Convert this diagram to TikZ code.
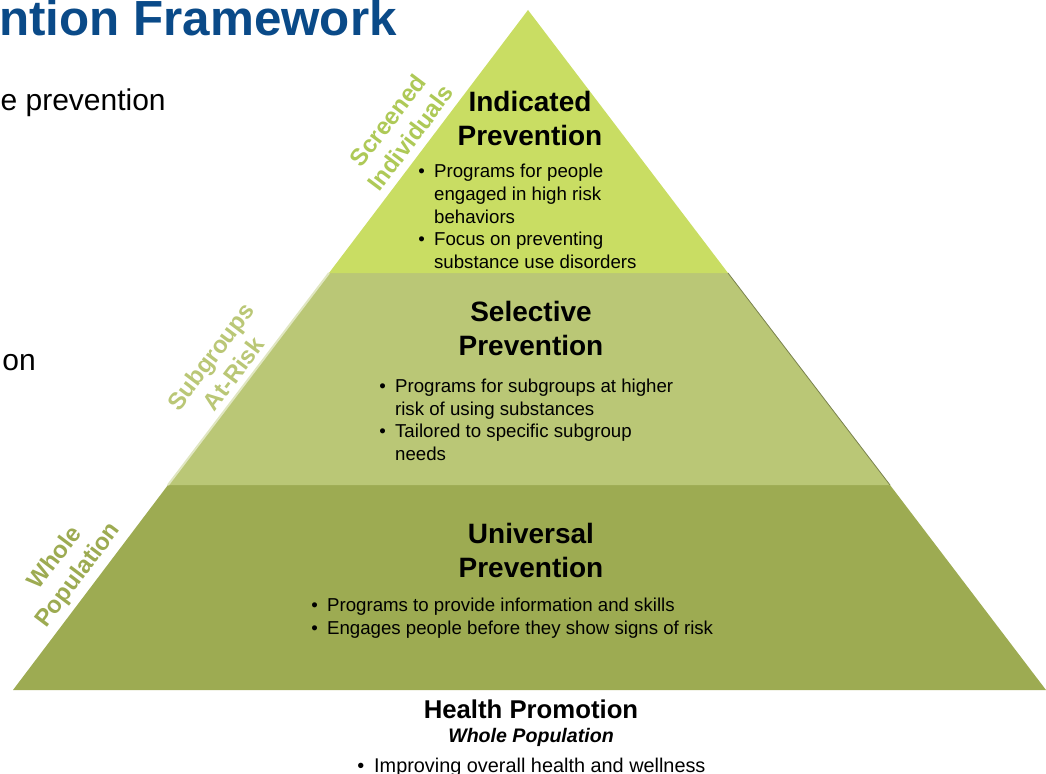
\documentclass[tikz,border=0pt]{standalone}
\usepackage{fontspec}
\setmainfont{Liberation Sans}
\definecolor{tiertop}{RGB}{201,221,99}
\definecolor{tiermid}{RGB}{186,199,118}
\definecolor{tierbot}{RGB}{157,171,82}
\definecolor{labtop}{RGB}{174,201,87}
\definecolor{titleblue}{RGB}{10,74,136}

\begin{document}
\begin{tikzpicture}[x=0.75pt, y=-0.75pt,
    head/.style={align=center, inner sep=0pt, font=\fontsize{21}{25.5}\selectfont\bfseries},
    list/.style={anchor=west, inner sep=0pt, font=\fontsize{14}{16.9}\selectfont},
    side/.style={rotate=53, align=center, inner sep=0pt, font=\fontsize{18}{21.4}\selectfont\bfseries}]
            \useasboundingbox (0,0) rectangle (1046,774);
            \clip (0,0) rectangle (1046,774);
            % slide text behind the pyramid
            \node [anchor=base east, inner sep=0pt, text=titleblue, font=\fontsize{37}{44}\selectfont\bfseries] (title) at (397,36) {ntion Framework};
            \node [anchor=base east, inner sep=0pt, font=\fontsize{22.5}{27}\selectfont] (slideA) at (166,110) {e prevention};
            \node [anchor=base east, inner sep=0pt, font=\fontsize{22.5}{27}\selectfont] (slideB) at (36,370) {on};
            % tiers
            \fill [tierbot] (168,485) -- (890,485) -- (1046,690) -- (13,690) -- cycle;
            \fill [tiermid] (329,273) -- (728,273) -- (890,485) -- (168,485) -- cycle;
            \fill [tiertop] (528,10) -- (728,273) -- (329,273) -- cycle;
            \draw [white!55!tiermid, line width=1.5] (329,273) -- (168,485);
            \draw [tiermid!65!black, line width=0.6] (728,273) -- (890,485);
            % tier texts
            \node [head] (indhead) at (530,118) {Indicated\\Prevention};
            \node [list] (indlist) at (418,218.5) {\begin{tabular}{@{}l@{\hspace{7pt}}l@{}}
                \textbullet & Programs for people\\ & engaged in high risk\\ & behaviors\\
                \textbullet & Focus on preventing\\ & substance use disorders\end{tabular}};
            \node [head] (selhead) at (531,328) {Selective\\Prevention};
            \node [list] (sellist) at (379,422) {\begin{tabular}{@{}l@{\hspace{7pt}}l@{}}
                \textbullet & Programs for subgroups at higher\\ & risk of using substances\\
                \textbullet & Tailored to specific subgroup\\ & needs\end{tabular}};
            \node [head] (unihead) at (531,550) {Universal\\Prevention};
            \node [list] (unilist) at (311,618.5) {\begin{tabular}{@{}l@{\hspace{7pt}}l@{}}
                \textbullet & Programs to provide information and skills\\
                \textbullet & Engages people before they show signs of risk\end{tabular}};
            % side labels
            \node [side, text=labtop] (screened) at (399,129) {Screened\\Individuals};
            \node [side, text=tiermid] (subgroups) at (222,365) {Subgroups\\At-Risk};
            \node [side, text=tierbot] (whole) at (67,567) {Whole\\Population};
            % below the base
            \node [font=\fontsize{19.3}{23}\selectfont\bfseries] (health) at (531,709) {Health Promotion};
            \node [font=\fontsize{14.7}{17}\selectfont\bfseries\itshape] (healthpop) at (531,737) {Whole Population};
            \node [list, font=\fontsize{14.9}{18}\selectfont] (healthlist) at (357,767) {\textbullet\hspace{7.5pt}Improving overall health and wellness};
        \end{tikzpicture}
\end{document}
